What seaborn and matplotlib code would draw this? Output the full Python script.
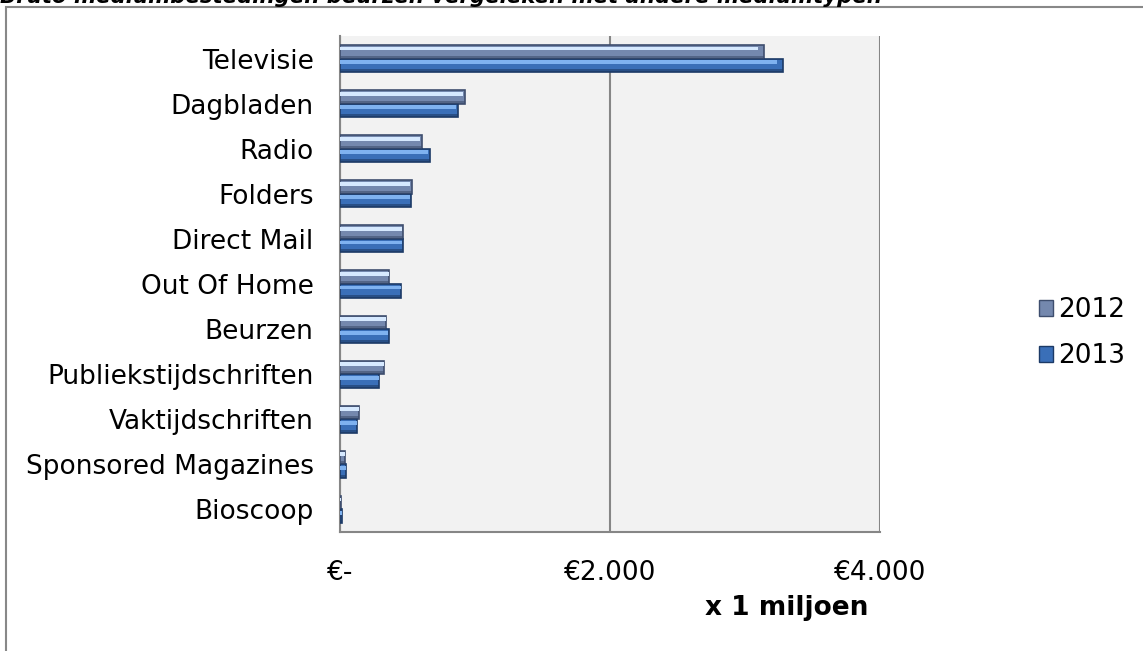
import pandas as pd
import matplotlib.pyplot as plt
import matplotlib.patches as mpatches
import seaborn as sns

# chart data (x 1 miljoen euro)
media = ['Televisie', 'Dagbladen', 'Radio', 'Folders', 'Direct Mail', 'Out Of Home',
         'Beurzen', 'Publiekstijdschriften', 'Vaktijdschriften', 'Sponsored Magazines', 'Bioscoop']
jaren = ['2012', '2013']
waarde_2012 = [3143, 923, 604, 530, 463, 366, 344, 329, 143, 38, 10]
waarde_2013 = [3284, 871, 663, 523, 470, 455, 361, 292, 128, 42, 12]
xticks = [0, 2000, 4000]
xtick_labels = ['€-', '€2.000', '€4.000']

df = pd.DataFrame({
    'medium': media * 2,
    'jaar': [jaren[0]] * len(media) + [jaren[1]] * len(media),
    'waarde': waarde_2012 + waarde_2013,
})

sns.set_style('white')
plt.rcParams['font.family'] = ['DejaVu Sans']
plt.rcParams['text.color'] = 'black'
plt.rcParams['xtick.labelcolor'] = 'black'
plt.rcParams['ytick.labelcolor'] = 'black'

kleur = {'2012': '#7488AE', '2013': '#3A6FB8'}
licht = {'2012': '#D6E9FF', '2013': '#7FB2F0'}
rand = {'2012': '#3E4E6E', '2013': '#1C3A66'}

fig = plt.figure(figsize=(11.43, 6.51), dpi=100)
ax = fig.add_axes([340 / 1143, 1 - 532 / 651, 540 / 1143, 496 / 651])
ax.set_facecolor('#F2F2F2')

sns.barplot(data=df, x='waarde', y='medium', hue='jaar', orient='h', order=media,
            hue_order=jaren, palette=kleur, width=0.6, gap=0, saturation=1,
            legend=False, ax=ax, linewidth=1.2, zorder=3)

# bevel look: light stripe inside each bar, derived from the bar geometry
for patch in ax.patches:
    fc = patch.get_facecolor()
    jaar = '2012' if abs(fc[0] - 0x74 / 255) < 0.02 else '2013'
    patch.set_edgecolor(rand[jaar])
    x0, y0 = patch.get_x(), patch.get_y()
    w, h = patch.get_width(), patch.get_height()
    if w <= 0:
        continue
    ax.add_patch(mpatches.Rectangle((x0, y0 + h * 0.12), w * 0.985, h * 0.28,
                                    facecolor=licht[jaar], edgecolor='none', zorder=4))
    ax.add_patch(mpatches.Rectangle((x0, y0 + h * 0.78), w, h * 0.22,
                                    facecolor=rand[jaar], edgecolor='none', alpha=0.6, zorder=4))

ax.set_xlim(0, 4000)
ax.set_ylim(len(media) - 0.5, -0.5)
ax.set_xticks(xticks)
ax.set_xticklabels(xtick_labels)
ax.set_xlabel('')
ax.set_ylabel('')
ax.grid(axis='x', color='#868686', linewidth=1.5, zorder=1)
ax.set_axisbelow(True)

for side in ['top', 'right']:
    ax.spines[side].set_visible(False)
for side in ['left', 'bottom']:
    ax.spines[side].set_color('#868686')
    ax.spines[side].set_linewidth(1.5)

ax.set_yticks([i + 0.5 for i in range(-1, len(media))], minor=True)
ax.tick_params(axis='y', which='major', length=0, pad=19, labelsize=19)
ax.tick_params(axis='y', which='minor', length=6, width=1.5, color='#868686', direction='out')
ax.tick_params(axis='x', length=6, width=1.5, color='#868686', direction='out', pad=14, labelsize=19)

fig.text(787 / 1143, 1 - 608 / 651, 'x 1 miljoen', fontsize=19, fontweight='bold',
         ha='center', va='center')

handles = [mpatches.Patch(facecolor=kleur[j], edgecolor=rand[j], label=j) for j in jaren]
fig.legend(handles=handles, loc='center left', bbox_to_anchor=(1028 / 1143, 1 - 333 / 651),
           frameon=False, fontsize=19, handlelength=0.55, handleheight=0.55,
           handletextpad=0.2, labelspacing=0.75, borderaxespad=0)

fig.text(0.0, 1 - 3 / 651, 'Bruto mediumbestedingen beurzen vergeleken met andere mediumtypen',
         fontsize=15.3, fontweight='bold', fontstyle='italic', ha='left', va='baseline')

fig.add_artist(mpatches.Rectangle((6 / 1143, -0.02), 1.0, 1 - 7 / 651 + 0.02,
                                  transform=fig.transFigure, fill=False,
                                  edgecolor='#888888', linewidth=1.5, clip_on=False))

fig.savefig('out.png', dpi=100)
